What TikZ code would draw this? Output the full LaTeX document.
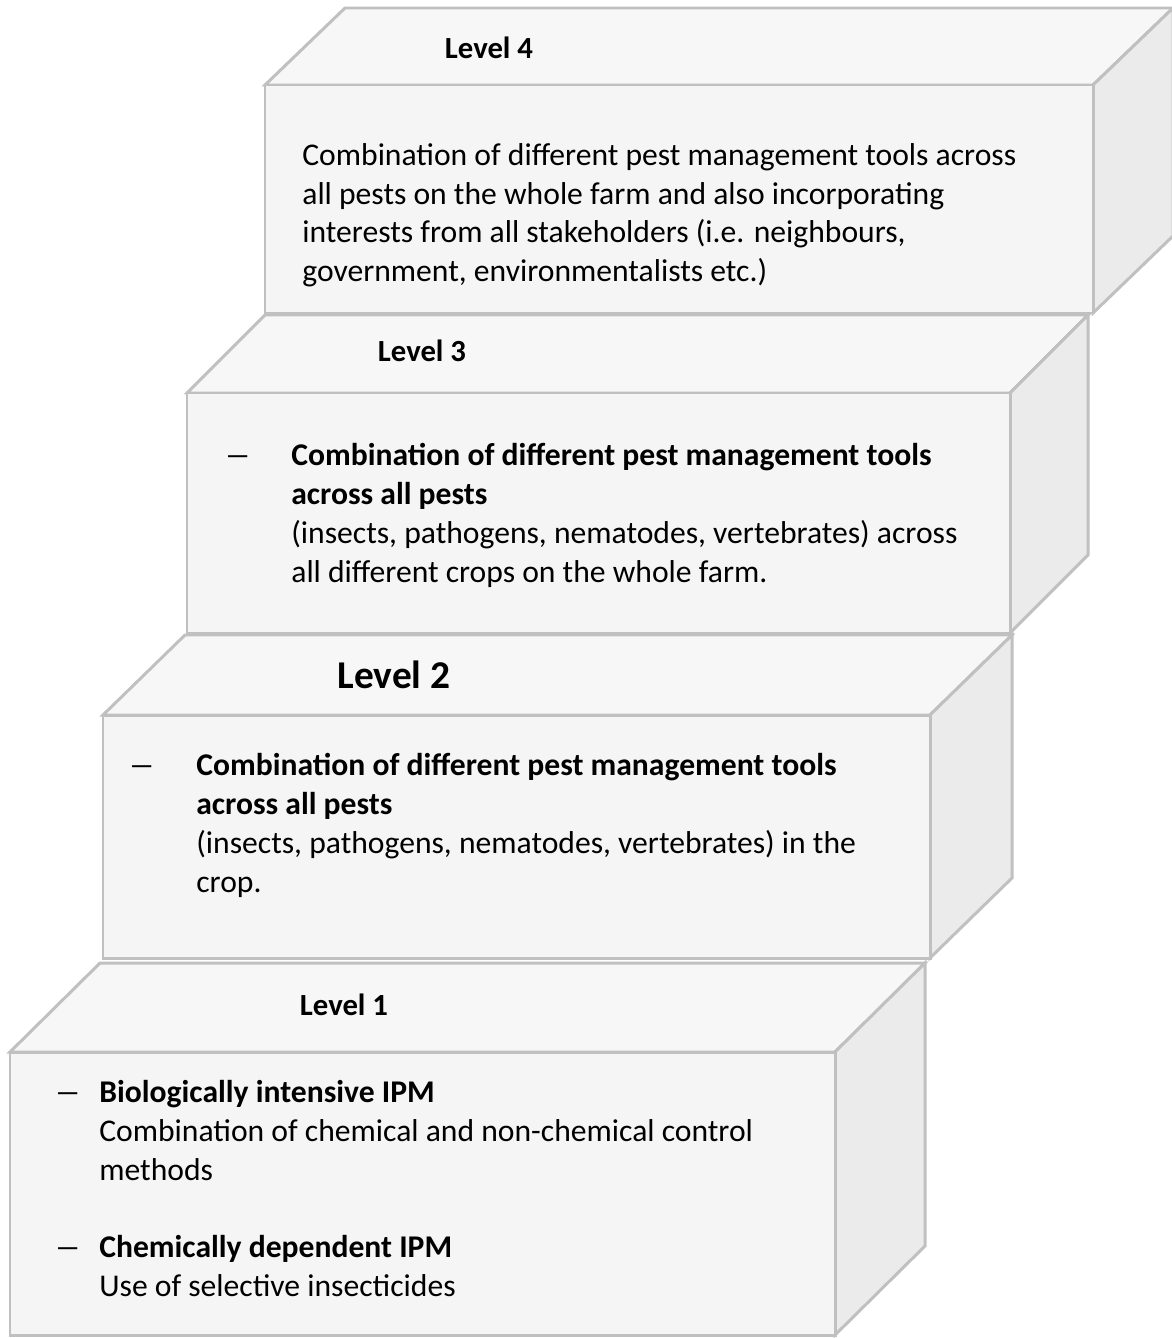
\documentclass[tikz,border=0pt]{standalone}
\usepackage{fontspec}
\setmainfont{Carlito}
\usetikzlibrary{positioning}

\definecolor{edgegray}{HTML}{C0C0C0}
\definecolor{frontfill}{HTML}{F5F5F5}
\definecolor{topfill}{HTML}{F7F7F7}
\definecolor{sidefill}{HTML}{EBEBEB}

\tikzset{
  face/.style={draw=edgegray, line width=1.7pt, line join=miter},
  lvl/.style={font=\bfseries\fontsize{17.5}{20}\selectfont, inner sep=0pt},
  body/.style={anchor=north west, align=left, inner sep=0pt, font=\fontsize{18}{22.1}\selectfont},
  dashmark/.style={anchor=north west, inner sep=0pt, font=\fontsize{18}{22.1}\selectfont},
}

% left, top, right, bottom, depth x, depth y
\newcommand{\stepblock}[6]{%
  \draw[face, fill=topfill] (#1,#2) -- (#1+#5,#2-#6) -- (#3+#5,#2-#6) -- (#3,#2) -- cycle;
  \draw[face, fill=sidefill] (#3,#2) -- (#3+#5,#2-#6) -- (#3+#5,#4-#6) -- (#3,#4) -- cycle;
  \draw[face, fill=frontfill] (#1,#2) rectangle (#3,#4);
}
\newcommand{\itemdash}{\vphantom{b}\scalebox{1.7}[1]{\textendash}}

\begin{document}
\begin{tikzpicture}[x=0.02cm, y=-0.02cm]
    \useasboundingbox (0,0) rectangle (1171,1338);

    % Steps
    \stepblock{10}{1052}{835}{1335}{90}{89}
    \stepblock{103}{715}{930}{958}{82}{80}
    \stepblock{187}{393}{1010}{633}{78}{78}
    \stepblock{265}{85}{1093}{313}{80}{77}

    % Level 4
    \node [lvl] (lev4) at (489,48) {Level 4};
    \node [body] (txt4) at (302,143) {Combination of different pest management tools across\\
      all pests on the whole farm and also incorporating\\
      interests from all stakeholders (i.e. neighbours,\\
      government, environmentalists etc.)};

    % Level 3
    \node [lvl] (lev3) at (422,351) {Level 3};
    \node [dashmark] (dash3) at (224,443) {\itemdash};
    \node [body] (txt3) at (291,443) {\textbf{Combination of different pest management tools}\\
      \textbf{across all pests}\\
      (insects, pathogens, nematodes, vertebrates) across\\
      all different crops on the whole farm.};

    % Level 2
    \node [lvl, font=\bfseries\fontsize{22.4}{24}\selectfont] (lev2) at (394,675) {Level 2};
    \node [dashmark] (dash2) at (128,753) {\itemdash};
    \node [body] (txt2) at (196,753) {\textbf{Combination of different pest management tools}\\
      \textbf{across all pests}\\
      (insects, pathogens, nematodes, vertebrates) in the\\
      crop.};

    % Level 1
    \node [lvl] (lev1) at (344,1005) {Level 1};
    \node [dashmark] (dash1a) at (54,1080) {\itemdash};
    \node [body] (txt1a) at (99,1080) {\textbf{Biologically intensive IPM}\\
      Combination of chemical and non-chemical control\\
      methods};
    \node [dashmark] (dash1b) at (54,1235) {\itemdash};
    \node [body] (txt1b) at (99,1235) {\textbf{Chemically dependent IPM}\\
      Use of selective insecticides};
\end{tikzpicture}
\end{document}
